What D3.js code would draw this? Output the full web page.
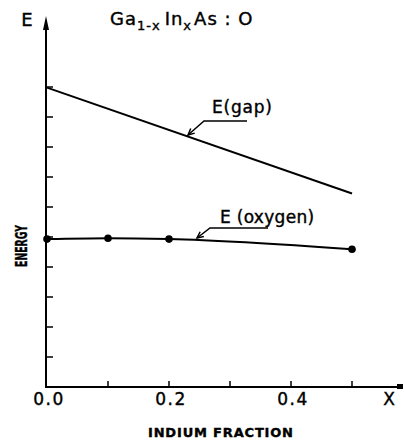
<!DOCTYPE html>
<html><head><meta charset="utf-8">
<script src="https://cdn.jsdelivr.net/npm/d3@7"></script>
<style>body{margin:0;background:#fff}svg{display:block}text{font-family:"DejaVu Sans",sans-serif;fill:#000;stroke:#000;stroke-width:0.4}</style>
</head><body>
<script>
const gapX = [0.0, 0.5];
const gapE = [9.98, 6.45];
const oxyX = [0.0, 0.1, 0.2, 0.5];
const oxyE = [4.93, 4.96, 4.93, 4.59];
const xTickLabels = ["0.0", "0.2", "0.4"];
const xTickLabelValues = [0.0, 0.2, 0.4];
const xTickValues = [0.1, 0.2, 0.3, 0.4, 0.5];
const yTickValues = [1,2,3,4,5,6,7,8,9,10];

const W = 404, H = 441;
const svg = d3.select("body").append("svg").attr("width", W).attr("height", H);
const x = d3.scaleLinear().domain([0, 0.5]).range([47, 352]);
const y = d3.scaleLinear().domain([0, 10]).range([387, 87]);

// axes
svg.append("line").attr("x1", x(0) - 1).attr("x2", x(0) - 1).attr("y1", y(0)).attr("y2", 22)
  .attr("stroke", "#000").attr("stroke-width", 2);
svg.append("path").attr("d", `M${x(0)-1},16 L${x(0)-4},30 L${x(0)+2},30 Z`).attr("fill", "#000");
svg.append("line").attr("x1", x(0) - 2).attr("x2", 400).attr("y1", y(0)).attr("y2", y(0))
  .attr("stroke", "#000").attr("stroke-width", 2);
svg.append("rect").attr("x", 397).attr("y", y(0) - 3).attr("width", 6).attr("height", 5).attr("fill", "#000");

const g = svg.append("g");
yTickValues.forEach(v => {
  g.append("line").attr("x1", x(0) - 1).attr("x2", x(0) + 6).attr("y1", y(v)).attr("y2", y(v))
    .attr("stroke", "#000").attr("stroke-width", 1.5);
});
xTickValues.forEach(v => {
  g.append("line").attr("x1", x(v)).attr("x2", x(v)).attr("y1", y(0)).attr("y2", y(0) - 6)
    .attr("stroke", "#000").attr("stroke-width", 1.5);
});
xTickLabelValues.forEach((v, i) => {
  svg.append("text").attr("x", x(v) + 2).attr("y", 405).attr("text-anchor", "middle")
    .attr("font-size", 17).attr("letter-spacing", 1.5).text(xTickLabels[i]);
});
svg.append("text").attr("x", 389).attr("y", 405).attr("text-anchor", "middle").attr("font-size", 17).text("X");
svg.append("text").attr("x", 27).attr("y", 26).attr("text-anchor", "middle").attr("font-size", 18).text("E");
svg.append("text").attr("x", 148).attr("y", 437).attr("font-size", 13)
  .attr("font-weight", "bold").attr("textLength", 145).attr("lengthAdjust", "spacing").text("INDIUM  FRACTION");
svg.append("text").attr("transform", "translate(26.5,267) rotate(-90)")
  .attr("font-size", 15).attr("font-weight", "bold").attr("textLength", 42).attr("lengthAdjust", "spacingAndGlyphs").text("ENERGY");

// title
const t = svg.append("text").attr("x", 110).attr("y", 25).attr("font-size", 18).attr("letter-spacing", 1);
t.append("tspan").text("Ga");
t.append("tspan").attr("dy", 5).attr("font-size", 13).text("1-x");
t.append("tspan").attr("dy", -5).attr("dx", 4).text("In");
t.append("tspan").attr("dy", 5).attr("font-size", 13).text("x");
t.append("tspan").attr("dy", -5).attr("dx", 2).text("As : O");

// data lines
const gapData = gapX.map((v, i) => [v, gapE[i]]);
const oxyData = oxyX.map((v, i) => [v, oxyE[i]]);
svg.append("path").datum(gapData)
  .attr("d", d3.line().x(d => x(d[0])).y(d => y(d[1])))
  .attr("fill", "none").attr("stroke", "#000").attr("stroke-width", 2);
svg.append("path").datum(oxyData)
  .attr("d", d3.line().x(d => x(d[0])).y(d => y(d[1])).curve(d3.curveMonotoneX))
  .attr("fill", "none").attr("stroke", "#000").attr("stroke-width", 2);
svg.selectAll("circle.o").data(oxyData).enter().append("circle")
  .attr("cx", d => x(d[0])).attr("cy", d => y(d[1])).attr("r", 3.8).attr("fill", "#000");

// labels with leaders
function leader(x0, y0, x1, x2, y2) {
  svg.append("path").attr("d", `M${x0},${y0} L${x1},${y0} L${x2},${y2}`)
    .attr("fill", "none").attr("stroke", "#000").attr("stroke-width", 1.5);
  const ang = Math.atan2(y2 - y0, x2 - x1);
  const L = 7, a = 0.45;
  const p1 = [x2 - L * Math.cos(ang - a), y2 - L * Math.sin(ang - a)];
  const p2 = [x2 - L * Math.cos(ang + a), y2 - L * Math.sin(ang + a)];
  svg.append("path").attr("d", `M${p1[0]},${p1[1]} L${x2},${y2} L${p2[0]},${p2[1]}`)
    .attr("fill", "none").attr("stroke", "#000").attr("stroke-width", 1.5);
}
svg.append("text").attr("x", 212).attr("y", 113).attr("font-size", 17).attr("letter-spacing", 0.8).text("E(gap)");
leader(247, 121, 204, 188, 135);
svg.append("text").attr("x", 220).attr("y", 223).attr("font-size", 17).attr("letter-spacing", 0.3).text("E (oxygen)");
leader(268, 228, 210, 197, 238);
</script>
</body></html>
